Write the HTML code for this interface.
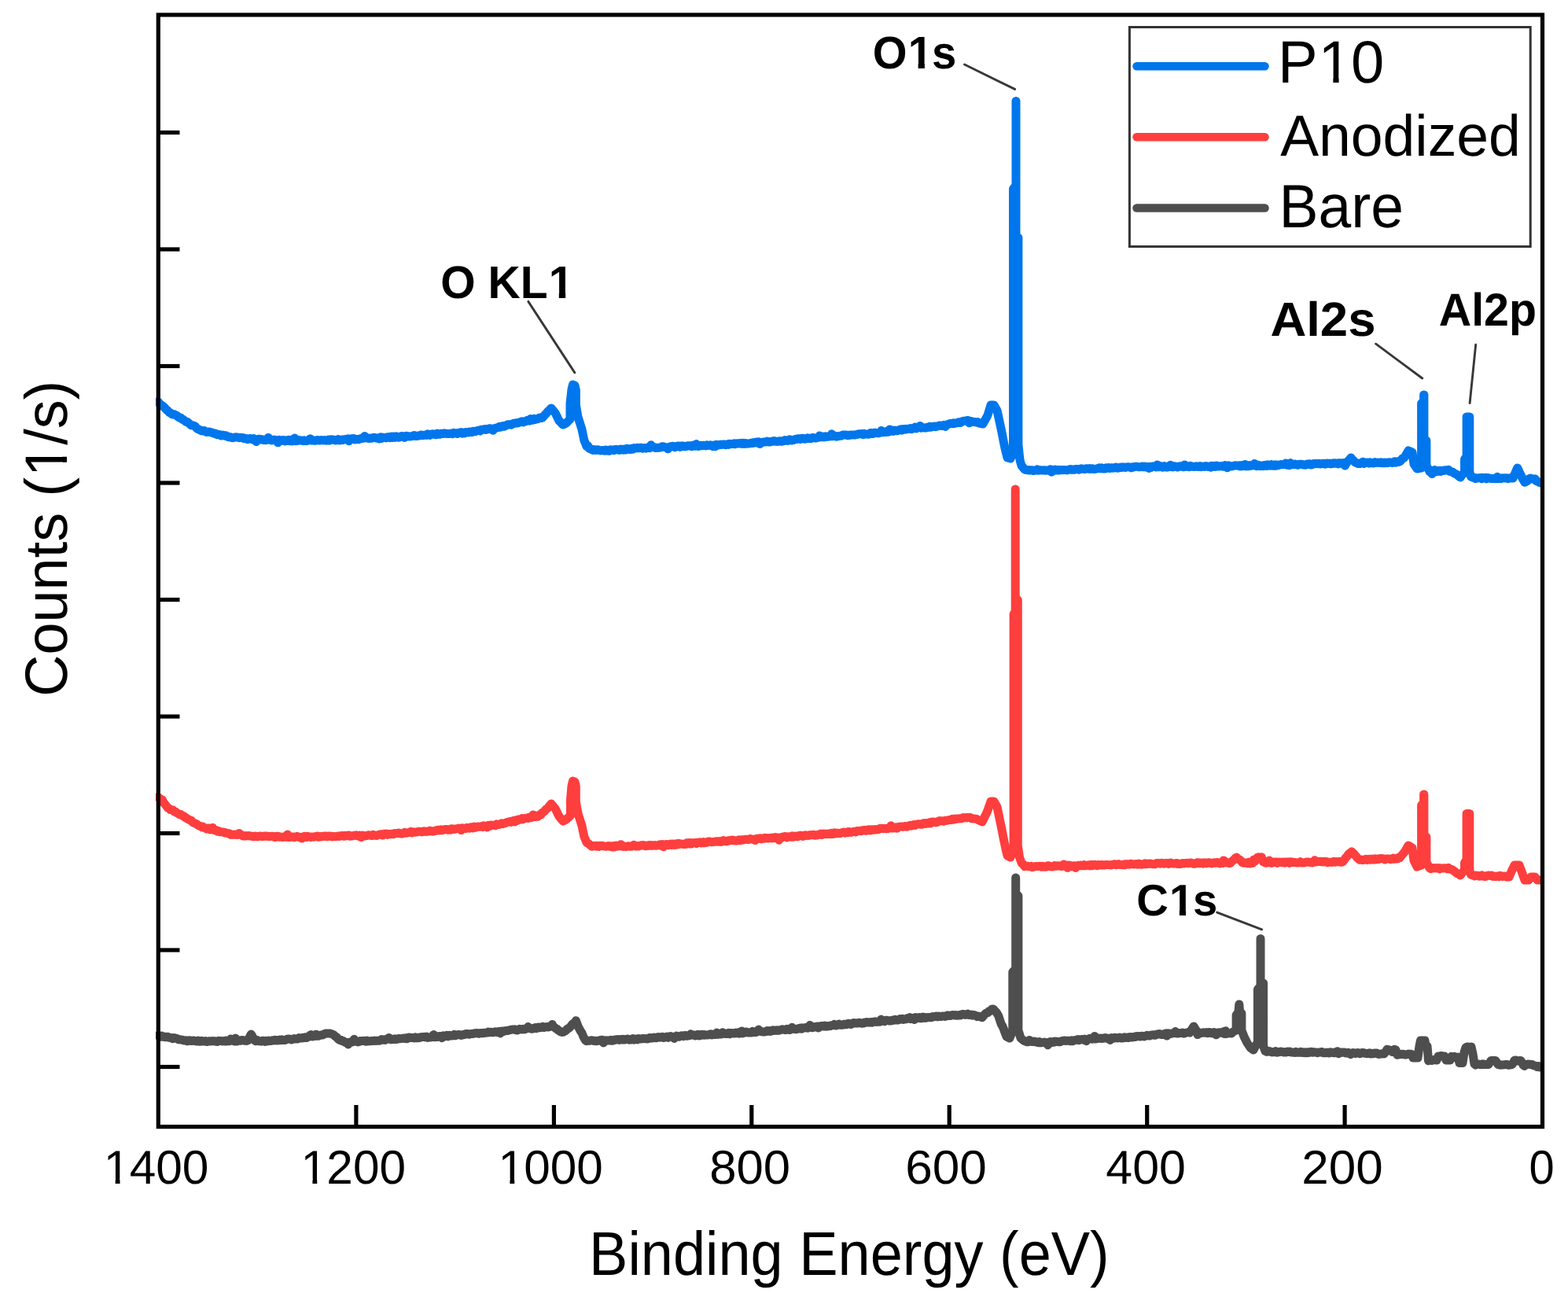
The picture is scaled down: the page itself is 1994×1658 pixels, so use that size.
<!DOCTYPE html>
<html><head><meta charset="utf-8"><title>XPS survey spectra</title>
<style>
html,body{margin:0;padding:0;background:#fff;}
body{width:1994px;height:1658px;overflow:hidden;}
svg{display:block;}
text{font-family:"Liberation Sans",Arial,sans-serif;fill:#000;text-rendering:geometricPrecision;}
</style></head><body>
<svg width="1994" height="1658" viewBox="0 0 1994 1658">
<rect x="0" y="0" width="1994" height="1658" fill="#fff"/>
<defs><clipPath id="pc"><rect x="198" y="0" width="1763.5" height="1658"/></clipPath></defs>
<g clip-path="url(#pc)">
<path d="M201.0 510.7L202.8 513.0L204.5 514.6L206.2 515.5L208.0 517.3L209.8 518.8L211.5 520.9L213.2 521.9L215.0 524.2L216.7 525.0L218.3 526.4L220.0 527.1L221.7 526.8L223.3 527.9L225.0 528.5L226.7 530.2L228.3 531.1L230.0 531.3L231.7 533.3L233.3 533.7L235.0 534.9L236.7 536.5L238.3 536.6L240.0 538.0L241.7 539.4L243.3 540.8L245.0 540.9L246.7 541.4L248.3 542.3L250.0 544.4L251.7 545.6L253.3 546.3L255.0 547.1L256.5 547.9L258.1 547.7L259.6 547.5L261.2 548.8L262.7 549.4L264.2 549.1L265.8 548.9L267.3 549.5L268.8 549.8L270.4 550.3L271.9 551.1L273.5 550.9L275.0 552.1L276.5 552.8L278.1 552.3L279.6 552.7L281.2 554.0L282.7 553.0L284.2 553.4L285.8 554.3L287.3 553.7L288.8 554.6L290.4 555.8L291.9 555.4L293.5 556.0L295.0 556.6L296.5 556.8L298.1 556.1L299.6 555.8L301.2 555.9L302.7 556.3L304.2 556.7L305.8 556.3L307.3 556.6L308.8 556.6L310.4 557.7L311.9 557.3L313.5 557.6L315.0 558.6L316.5 558.0L318.1 557.5L319.6 558.0L321.2 558.8L322.7 557.6L324.2 558.5L325.8 561.6L327.3 559.2L328.8 558.3L330.4 558.2L331.9 558.9L333.5 558.7L335.0 559.5L336.5 559.6L338.1 559.7L339.6 558.8L341.2 556.4L342.7 559.3L344.2 559.6L345.8 560.0L347.3 559.4L348.8 559.0L350.4 559.7L351.9 559.8L353.5 562.8L355.0 559.3L356.5 560.7L358.0 560.4L359.6 559.5L361.1 559.7L362.6 560.8L364.1 559.8L365.6 560.4L367.1 559.4L368.7 560.6L370.2 559.4L371.7 560.8L373.2 559.8L374.7 557.1L376.3 560.7L377.8 560.6L379.3 559.5L380.8 559.7L382.3 560.1L383.9 559.9L385.4 560.7L386.9 559.9L388.4 560.6L389.9 560.7L391.4 560.1L393.0 559.2L394.5 557.7L396.0 560.0L397.5 560.1L399.1 560.0L400.6 560.3L402.2 559.9L403.7 559.5L405.2 559.8L406.8 560.1L408.3 559.6L409.8 559.7L411.4 559.9L412.9 559.6L414.5 560.2L416.0 560.1L417.5 559.1L419.1 560.1L420.6 558.8L422.2 559.3L423.7 558.9L425.2 559.5L426.8 559.9L428.3 559.5L429.8 558.6L431.4 559.9L432.9 559.8L434.5 559.0L436.0 559.5L437.5 558.8L439.1 558.6L440.6 558.5L442.2 557.9L443.7 560.8L445.2 558.2L446.8 557.8L448.3 558.0L449.8 557.6L451.4 558.9L452.9 558.6L454.5 558.6L456.0 558.7L457.5 558.0L459.1 557.8L460.6 557.4L462.2 557.2L463.7 554.5L465.2 556.9L466.8 556.8L468.3 557.3L469.8 557.4L471.4 556.9L472.9 557.2L474.5 556.5L476.0 556.3L477.5 556.6L479.1 557.3L480.6 556.8L482.2 558.0L483.7 555.8L485.2 557.3L486.8 556.1L488.3 556.6L489.8 556.6L491.4 556.9L492.9 555.8L494.5 555.6L496.0 556.6L497.5 555.3L499.1 556.6L500.6 555.0L502.2 556.3L503.7 554.9L505.2 555.3L506.8 556.2L508.3 555.7L509.8 554.8L511.4 554.4L512.9 554.9L514.5 556.6L516.0 554.5L517.5 554.2L519.1 555.0L520.6 555.1L522.2 555.0L523.7 554.6L525.2 554.0L526.8 553.5L528.3 554.6L529.8 554.6L531.4 554.0L532.9 554.1L534.5 553.3L536.0 552.9L537.5 553.7L539.1 553.2L540.6 553.2L542.2 553.4L543.7 551.8L545.2 552.1L546.8 553.4L548.3 552.5L549.8 551.7L551.4 551.9L552.9 552.2L554.5 552.8L556.0 551.3L557.5 552.3L559.0 552.3L560.6 551.3L562.1 551.2L563.6 551.5L565.1 550.8L566.6 551.1L568.2 551.6L569.7 551.4L571.2 551.4L572.7 551.3L574.2 551.0L575.8 551.7L577.3 550.4L578.8 551.1L580.3 550.7L581.8 551.4L583.4 550.3L584.9 550.4L586.4 549.7L587.9 551.1L589.4 550.1L591.0 550.8L592.5 549.4L594.0 549.6L595.5 549.9L597.0 549.1L598.5 549.0L600.0 549.6L601.5 548.2L603.0 548.8L604.5 548.6L606.0 547.8L607.5 547.5L609.0 547.2L610.5 548.0L612.0 546.2L613.5 546.4L615.0 546.3L616.5 545.6L618.0 546.4L619.5 545.4L621.0 545.8L622.5 544.7L624.0 544.9L625.5 545.2L627.0 547.3L628.5 545.0L630.0 544.4L631.5 544.0L633.1 543.7L634.6 542.6L636.2 543.3L637.7 542.2L639.2 541.6L640.8 542.3L642.3 541.5L643.8 541.0L645.4 540.0L646.9 539.7L648.5 539.8L650.0 540.2L651.5 539.1L653.1 538.3L654.6 538.2L656.2 537.7L657.7 537.9L659.2 537.8L660.8 536.9L662.3 536.5L663.8 535.7L665.4 536.8L666.9 535.7L668.5 535.9L670.0 534.6L671.5 534.5L673.1 535.1L674.6 532.5L676.2 534.2L677.7 534.2L679.2 532.5L680.8 533.5L682.3 532.5L683.8 532.7L685.4 531.4L686.9 531.0L688.5 531.6L690.0 531.0L691.5 529.2L693.0 527.5L694.5 525.8L696.0 524.0L697.7 522.3L699.3 520.7L701.0 519.0L702.7 521.0L704.3 523.0L706.0 525.0L707.7 528.3L709.3 531.7L711.0 535.0L712.7 536.7L714.3 538.3L716.0 540.0L718.0 539.0L720.0 538.0L721.7 536.3L723.3 534.7L725.0 533.0L725.0 513.0L727.0 495.0L728.5 489.0L731.0 490.0L732.4 496.0L732.4 515.0L734.9 530.0L736.6 535.3L738.3 540.7L740.0 546.0L742.9 560.0L744.5 563.5L746.0 567.6L747.6 566.8L749.2 570.2L750.8 570.4L752.4 571.6L754.0 572.4L755.6 571.5L757.2 572.4L758.8 571.9L760.4 571.7L762.0 572.5L763.6 572.9L765.2 572.7L766.8 572.4L768.4 573.2L770.0 572.2L771.5 573.2L773.0 572.4L774.6 573.3L776.1 571.8L777.6 572.3L779.1 571.9L780.6 572.6L782.1 571.6L783.7 571.7L785.2 571.5L786.7 572.2L788.2 572.4L789.7 571.1L791.3 571.3L792.8 572.1L794.3 571.1L795.8 571.9L797.3 570.3L798.9 570.7L800.4 571.4L801.9 571.5L803.4 570.3L804.9 571.1L806.4 569.6L808.0 570.0L809.5 569.8L811.0 569.2L812.5 569.7L814.1 569.2L815.6 569.3L817.2 570.2L818.7 569.5L820.2 569.5L821.8 570.1L823.3 569.2L824.8 568.6L826.4 569.7L827.9 565.7L829.5 568.4L831.0 568.3L832.5 568.7L834.1 569.6L835.6 569.2L837.2 569.4L838.7 569.0L840.2 569.0L841.8 567.8L843.3 567.8L844.8 568.3L846.4 568.7L847.9 568.7L849.5 570.8L851.0 568.4L852.5 567.7L854.0 567.7L855.5 567.2L857.0 568.2L858.5 568.8L860.0 567.6L861.5 567.0L863.0 567.1L864.5 568.3L866.0 567.0L867.5 567.4L869.0 567.0L870.5 567.8L872.0 567.7L873.5 566.9L875.0 566.8L876.5 567.1L878.0 566.7L879.5 567.7L881.0 566.3L882.5 566.5L884.0 567.1L885.5 564.6L887.0 567.3L888.5 567.4L890.0 566.4L891.5 566.2L893.0 566.7L894.5 566.3L896.0 566.4L897.5 566.9L899.0 565.8L900.5 566.5L902.0 566.1L903.5 565.8L905.0 566.4L906.5 567.8L908.0 565.9L909.5 567.7L911.0 565.3L912.5 565.7L914.0 566.0L915.5 565.2L917.0 565.5L918.5 565.2L920.0 565.1L921.5 565.1L923.0 565.8L924.5 564.9L926.0 565.4L927.5 564.2L929.0 564.7L930.5 564.6L932.0 564.6L933.5 563.8L935.0 564.7L936.5 563.7L938.0 564.1L939.5 563.6L941.0 564.1L942.5 563.4L944.0 564.4L945.5 563.3L947.0 564.4L948.5 563.6L950.0 564.2L951.5 564.1L953.0 563.8L954.5 563.7L956.0 563.0L957.5 563.5L959.0 562.5L960.5 562.9L962.0 562.1L963.5 563.0L965.0 561.8L966.5 564.5L968.0 562.5L969.5 562.5L971.0 562.0L972.5 561.9L974.0 561.9L975.5 561.1L977.0 561.8L978.5 562.1L980.0 561.5L981.5 561.4L983.0 560.8L984.5 560.6L986.0 561.2L987.5 561.3L989.0 561.4L990.5 560.9L992.0 560.7L993.6 561.3L995.1 561.0L996.6 560.6L998.1 559.6L999.6 559.9L1001.1 560.5L1002.7 560.1L1004.2 558.8L1005.7 559.8L1007.2 559.9L1008.7 559.6L1010.3 558.9L1011.8 558.3L1013.3 558.6L1014.8 557.7L1016.3 557.8L1017.9 558.5L1019.4 557.5L1020.9 557.3L1022.4 558.0L1023.9 558.2L1025.4 557.6L1027.0 556.7L1028.5 557.4L1030.0 557.5L1031.5 557.7L1033.1 556.5L1034.6 556.6L1036.2 556.9L1037.7 556.9L1039.2 556.5L1040.8 556.3L1042.3 553.9L1043.8 555.6L1045.4 555.7L1046.9 555.0L1048.5 555.8L1050.0 554.8L1051.5 555.1L1053.1 555.3L1054.6 554.8L1056.2 554.8L1057.7 551.8L1059.2 554.7L1060.8 554.1L1062.3 554.2L1063.8 555.2L1065.4 554.9L1066.9 554.4L1068.5 554.3L1070.0 554.0L1071.5 553.1L1073.1 553.0L1074.6 553.1L1076.2 552.9L1077.7 553.7L1079.2 553.2L1080.8 553.4L1082.3 552.9L1083.8 553.0L1085.4 553.0L1086.9 553.1L1088.5 552.7L1090.0 552.4L1091.5 551.7L1093.1 551.7L1094.6 551.8L1096.2 551.4L1097.7 552.6L1099.2 551.4L1100.8 551.9L1102.3 551.9L1103.8 552.2L1105.4 552.0L1106.9 550.6L1108.5 550.6L1110.0 551.5L1111.5 550.3L1113.1 550.1L1114.6 550.6L1116.2 550.8L1117.7 550.8L1119.2 549.9L1120.8 547.5L1122.3 549.8L1123.8 549.0L1125.4 549.3L1126.9 549.5L1128.5 547.9L1130.0 549.2L1131.5 546.0L1133.1 548.3L1134.6 547.2L1136.2 548.3L1137.7 547.1L1139.2 547.4L1140.8 547.8L1142.3 547.3L1143.8 546.4L1145.4 545.8L1146.9 547.0L1148.5 545.5L1150.0 546.2L1151.5 545.3L1153.1 545.9L1154.6 545.3L1156.2 545.1L1157.7 544.5L1159.2 545.7L1160.8 545.1L1162.3 544.4L1163.8 543.1L1165.4 544.8L1166.9 543.9L1168.5 543.5L1170.0 541.5L1171.5 544.2L1173.1 543.4L1174.6 543.9L1176.2 544.1L1177.7 544.0L1179.2 543.2L1180.8 543.4L1182.3 542.3L1183.8 543.3L1185.4 542.4L1186.9 542.4L1188.5 541.9L1190.0 542.7L1191.5 542.1L1193.0 541.7L1194.6 540.9L1196.1 541.0L1197.6 541.5L1199.1 541.2L1200.6 540.3L1202.1 542.4L1203.7 540.3L1205.2 539.5L1206.7 539.1L1208.2 538.5L1209.7 538.4L1211.3 538.7L1212.8 537.7L1214.3 538.4L1215.8 537.9L1217.3 537.7L1218.9 536.8L1220.4 537.5L1221.9 537.3L1223.4 535.8L1224.9 535.5L1226.4 535.2L1228.0 535.2L1229.5 534.6L1231.0 534.6L1232.5 537.7L1234.0 535.5L1235.5 535.7L1237.0 536.2L1238.5 536.6L1240.0 536.4L1241.5 537.1L1243.0 536.6L1244.8 538.1L1246.5 538.3L1248.2 538.8L1250.0 539.0L1251.5 536.2L1253.0 533.5L1254.5 530.8L1256.0 528.0L1258.0 521.5L1260.0 515.0L1262.0 515.0L1264.0 515.0L1266.0 518.5L1268.0 522.0L1269.7 529.7L1271.3 537.3L1273.0 545.0L1274.7 553.3L1276.3 561.7L1278.0 570.0L1279.5 576.0L1281.0 582.0L1283.0 582.5L1285.0 583.0L1286.8 579.0L1288.5 575.0L1288.5 240.0L1290.2 238.0L1292.0 236.0L1292.0 128.5L1292.0 300.0L1294.9 302.0L1294.9 565.0L1297.0 585.0L1299.0 592.0L1301.0 594.5L1303.0 596.9L1304.8 597.5L1306.5 597.4L1308.2 598.1L1310.0 597.6L1311.5 597.9L1313.0 597.8L1314.5 598.6L1316.1 598.1L1317.6 597.7L1319.1 596.8L1320.6 598.2L1322.1 597.8L1323.6 597.8L1325.2 598.0L1326.7 597.9L1328.2 597.7L1329.7 598.3L1331.2 597.9L1332.7 598.0L1334.2 598.3L1335.8 596.8L1337.3 600.2L1338.8 597.6L1340.3 597.5L1341.8 597.0L1343.3 598.1L1344.8 598.1L1346.4 597.2L1347.9 597.9L1349.4 597.7L1350.9 597.4L1352.4 597.7L1353.9 597.4L1355.5 597.6L1357.0 597.9L1358.5 597.3L1360.0 597.0L1361.5 596.5L1363.0 597.2L1364.5 597.1L1366.0 597.3L1367.5 596.5L1369.1 596.4L1370.6 596.8L1372.1 597.2L1373.6 596.2L1375.1 595.8L1376.6 596.1L1378.1 596.4L1379.6 596.4L1381.1 595.7L1382.6 595.8L1384.2 596.2L1385.7 595.5L1387.2 596.4L1388.7 595.8L1390.2 596.0L1391.7 596.6L1393.2 596.4L1394.7 595.9L1396.2 595.6L1397.7 594.9L1399.2 595.8L1400.8 594.9L1402.3 595.9L1403.8 595.5L1405.3 596.0L1406.8 594.8L1408.3 595.3L1409.8 594.6L1411.3 595.4L1412.8 594.7L1414.3 594.8L1415.8 595.2L1417.4 594.6L1418.9 594.0L1420.4 595.1L1421.9 595.2L1423.4 594.6L1424.9 594.0L1426.4 594.4L1427.9 593.8L1429.4 594.1L1430.9 594.4L1432.5 593.9L1434.0 593.8L1435.5 593.8L1437.0 594.1L1438.5 594.8L1440.0 593.8L1441.5 594.0L1443.0 593.5L1444.5 593.3L1446.0 593.3L1447.5 593.7L1449.1 593.7L1450.6 593.7L1452.1 593.1L1453.6 593.8L1455.1 593.1L1456.6 593.9L1458.1 593.2L1459.6 594.1L1461.1 595.5L1462.6 593.2L1464.2 594.3L1465.7 593.0L1467.2 592.9L1468.7 593.1L1470.2 594.0L1471.7 591.0L1473.2 593.8L1474.7 592.9L1476.2 592.8L1477.7 594.0L1479.2 594.2L1480.8 592.7L1482.3 593.6L1483.8 594.2L1485.3 593.3L1486.8 593.6L1488.3 591.3L1489.8 593.6L1491.3 593.9L1492.8 592.7L1494.3 593.0L1495.8 593.2L1497.4 594.0L1498.9 593.7L1500.4 592.7L1501.9 592.9L1503.4 593.2L1504.9 593.8L1506.4 590.9L1507.9 593.4L1509.4 592.5L1510.9 593.5L1512.5 593.7L1514.0 592.4L1515.5 593.2L1517.0 593.3L1518.5 593.5L1520.0 593.2L1521.5 592.8L1523.0 593.4L1524.5 593.4L1526.0 592.6L1527.5 593.7L1529.1 593.4L1530.6 593.0L1532.1 593.4L1533.6 592.5L1535.1 593.4L1536.6 593.1L1538.1 593.4L1539.6 594.3L1541.1 592.2L1542.6 593.1L1544.2 592.4L1545.7 593.3L1547.2 592.1L1548.7 593.1L1550.2 593.1L1551.7 592.7L1553.2 592.6L1554.7 593.0L1556.2 593.3L1557.7 591.8L1559.2 592.8L1560.8 594.8L1562.3 591.8L1563.8 592.9L1565.3 592.6L1566.8 593.0L1568.3 592.4L1569.8 591.9L1571.3 591.8L1572.8 592.1L1574.3 592.2L1575.8 591.7L1577.4 593.1L1578.9 591.6L1580.4 592.7L1581.9 592.4L1583.4 590.4L1584.9 592.8L1586.4 592.3L1587.9 592.8L1589.4 591.5L1590.9 592.3L1592.5 591.5L1594.0 591.8L1595.5 589.5L1597.0 592.6L1598.5 592.7L1600.0 591.3L1601.5 591.8L1603.0 592.7L1604.6 592.0L1606.1 592.6L1607.6 591.6L1609.1 591.2L1610.6 592.5L1612.2 590.9L1613.7 591.4L1615.2 592.2L1616.7 590.8L1618.2 591.9L1619.8 592.3L1621.3 590.9L1622.8 592.1L1624.3 591.0L1625.8 591.7L1627.4 591.0L1628.9 590.6L1630.4 590.7L1631.9 590.6L1633.4 590.3L1635.0 589.0L1636.5 591.2L1638.0 591.4L1639.5 591.7L1641.0 588.6L1642.6 590.6L1644.1 590.8L1645.6 590.2L1647.1 590.1L1648.6 590.8L1650.2 591.3L1651.7 590.5L1653.2 590.2L1654.7 590.3L1656.2 590.5L1657.8 591.1L1659.3 591.2L1660.8 591.0L1662.3 589.9L1663.8 590.0L1665.4 589.8L1666.9 591.0L1668.4 590.9L1669.9 589.8L1671.4 589.4L1673.0 589.7L1674.5 589.3L1676.0 589.7L1677.5 589.2L1679.0 590.0L1680.5 589.8L1682.0 589.4L1683.5 589.2L1685.0 590.2L1686.5 589.2L1688.0 589.0L1689.5 589.6L1691.0 589.1L1692.5 589.9L1694.0 589.6L1695.5 588.8L1697.0 589.3L1698.5 588.7L1700.0 589.1L1701.5 589.9L1703.0 588.5L1704.5 589.2L1706.0 588.8L1707.5 589.7L1709.0 588.5L1710.5 592.1L1712.0 589.0L1713.5 587.2L1715.0 585.5L1716.5 583.8L1718.0 582.0L1719.5 583.8L1721.0 585.5L1722.5 587.2L1724.0 588.3L1725.5 588.6L1727.1 589.6L1728.6 589.5L1730.1 589.5L1731.7 588.2L1733.2 587.2L1734.7 589.5L1736.3 588.2L1737.8 588.3L1739.3 587.9L1740.9 589.0L1742.4 587.8L1743.9 588.7L1745.5 588.9L1747.0 589.1L1748.5 587.7L1750.1 588.4L1751.6 588.0L1753.1 588.2L1754.7 588.5L1756.2 587.7L1757.7 588.7L1759.3 588.8L1760.8 588.0L1762.3 588.7L1763.9 588.0L1765.4 588.5L1766.9 587.7L1768.5 587.9L1770.0 588.5L1771.7 588.3L1773.3 587.0L1775.0 588.2L1776.7 586.9L1778.3 587.4L1780.0 587.0L1781.8 585.1L1783.5 582.7L1785.2 582.5L1787.0 580.0L1789.0 576.5L1791.0 573.0L1792.7 573.7L1794.3 574.3L1796.0 575.0L1798.0 590.0L1800.0 593.0L1802.0 596.0L1803.9 595.7L1805.7 595.3L1807.6 595.0L1807.6 513.0L1809.1 511.5L1810.6 510.0L1810.6 502.0L1810.9 502.0L1810.9 558.0L1812.4 559.0L1813.9 560.0L1813.9 592.0L1816.0 595.5L1818.0 599.7L1819.6 599.5L1821.1 602.5L1822.7 599.2L1824.3 597.6L1825.9 599.0L1827.4 599.7L1829.0 598.7L1830.6 598.3L1832.2 599.5L1833.9 598.3L1835.5 598.6L1837.1 597.8L1838.8 597.9L1840.4 597.8L1842.0 597.3L1843.6 599.3L1845.2 599.7L1846.8 599.9L1848.4 601.1L1850.0 602.2L1851.8 602.9L1853.5 604.1L1855.2 605.6L1857.0 607.0L1858.8 604.7L1860.7 602.3L1862.5 600.0L1862.5 584.0L1865.1 580.0L1865.1 530.0L1866.9 530.0L1868.8 530.0L1868.8 600.0L1870.5 606.0L1872.0 606.7L1873.5 607.3L1875.0 607.2L1876.5 608.6L1878.1 608.1L1879.6 607.7L1881.1 607.7L1882.7 607.5L1884.2 608.6L1885.7 607.3L1887.2 607.9L1888.8 607.4L1890.3 608.7L1891.8 607.4L1893.4 607.8L1894.9 608.2L1896.4 608.5L1898.0 608.4L1899.5 608.4L1901.0 608.5L1902.6 608.7L1904.1 606.3L1905.6 608.7L1907.2 607.9L1908.7 608.6L1910.2 607.8L1911.8 607.9L1913.3 607.7L1914.8 608.1L1916.3 607.7L1917.9 608.6L1919.4 607.9L1920.9 607.7L1922.5 608.1L1924.0 608.0L1925.9 603.7L1927.8 599.3L1929.7 595.0L1931.5 598.7L1933.2 602.3L1935.0 606.0L1937.0 610.0L1939.0 613.3L1940.8 612.2L1942.5 611.5L1944.2 609.0L1946.0 608.0L1947.5 608.5L1949.0 609.0L1950.5 609.5L1952.0 608.8L1953.8 611.6L1955.5 612.1L1957.2 613.2L1959.0 614.0" fill="none" stroke="#0076ec" stroke-width="11.0" stroke-linejoin="round" stroke-linecap="round"/>
<path d="M201.0 1013.5L202.8 1014.9L204.5 1016.3L206.2 1016.6L208.0 1020.4L209.8 1022.6L211.5 1024.6L213.2 1027.0L215.0 1027.9L216.7 1029.6L218.3 1029.7L220.0 1030.0L221.7 1032.1L223.3 1032.2L225.0 1033.6L226.7 1034.5L228.3 1035.6L230.0 1035.5L231.7 1037.0L233.3 1037.5L235.0 1039.2L236.7 1039.8L238.3 1041.2L240.0 1041.9L241.7 1042.7L243.3 1043.2L245.0 1045.5L246.7 1046.3L248.3 1047.0L250.0 1047.6L251.7 1049.1L253.3 1050.1L255.0 1050.4L256.5 1051.8L258.1 1051.1L259.6 1052.2L261.2 1052.7L262.7 1053.9L264.2 1052.9L265.8 1052.9L267.3 1054.7L268.8 1053.8L270.4 1052.2L271.9 1055.4L273.5 1055.5L275.0 1055.6L276.5 1057.1L278.1 1056.5L279.6 1057.7L281.2 1057.7L282.7 1057.9L284.2 1057.9L285.8 1059.0L287.3 1058.8L288.8 1059.4L290.4 1059.4L291.9 1060.0L293.5 1061.4L295.0 1061.1L296.5 1061.2L298.1 1061.2L299.6 1060.9L301.2 1061.4L302.7 1061.3L304.2 1059.5L305.8 1061.5L307.3 1061.6L308.8 1062.9L310.4 1062.4L311.9 1063.2L313.5 1062.6L315.0 1062.8L316.5 1062.6L318.1 1063.1L319.6 1063.0L321.2 1063.5L322.7 1063.8L324.2 1063.0L325.8 1063.4L327.3 1063.9L328.8 1063.4L330.4 1063.0L331.9 1063.2L333.5 1063.6L335.0 1063.3L336.5 1063.0L338.1 1063.3L339.6 1063.0L341.2 1063.4L342.7 1063.4L344.2 1063.4L345.8 1063.2L347.3 1063.5L348.8 1064.5L350.4 1064.5L351.9 1063.3L353.5 1063.2L355.0 1064.3L356.5 1063.9L358.0 1064.3L359.6 1064.6L361.1 1064.2L362.6 1063.4L364.1 1064.4L365.6 1061.1L367.1 1064.4L368.7 1064.4L370.2 1064.2L371.7 1064.1L373.2 1064.0L374.7 1064.7L376.3 1064.1L377.8 1063.4L379.3 1064.2L380.8 1064.6L382.3 1064.3L383.9 1066.1L385.4 1064.7L386.9 1063.3L388.4 1063.8L389.9 1064.5L391.4 1063.3L393.0 1063.9L394.5 1064.3L396.0 1064.5L397.5 1063.9L399.1 1064.2L400.6 1063.9L402.2 1063.3L403.7 1063.1L405.2 1064.3L406.8 1063.8L408.3 1063.9L409.8 1063.3L411.4 1063.4L412.9 1063.1L414.5 1063.0L416.0 1063.8L417.5 1063.0L419.1 1063.3L420.6 1063.1L422.2 1064.0L423.7 1063.4L425.2 1063.8L426.8 1063.6L428.3 1063.5L429.8 1063.1L431.4 1063.6L432.9 1062.7L434.5 1062.6L436.0 1062.6L437.5 1063.3L439.1 1062.3L440.6 1062.8L442.2 1062.3L443.7 1062.0L445.2 1063.2L446.8 1063.1L448.3 1062.8L449.8 1062.6L451.4 1062.1L452.9 1061.8L454.5 1062.8L456.0 1063.2L457.5 1062.1L459.1 1064.6L460.6 1062.1L462.2 1062.6L463.7 1063.0L465.2 1062.7L466.8 1062.6L468.3 1061.7L469.8 1061.9L471.4 1062.2L472.9 1062.6L474.5 1061.3L476.0 1062.2L477.5 1062.2L479.1 1062.5L480.6 1061.7L482.2 1061.2L483.7 1060.8L485.2 1060.8L486.8 1061.9L488.3 1060.3L489.8 1060.5L491.4 1060.1L492.9 1061.3L494.5 1060.5L496.0 1060.8L497.5 1060.3L499.1 1060.2L500.6 1060.7L502.2 1059.5L503.7 1059.8L505.2 1059.6L506.8 1059.0L508.3 1059.5L509.8 1060.1L511.4 1060.1L512.9 1059.4L514.5 1058.4L516.0 1059.2L517.5 1059.0L519.1 1058.7L520.6 1058.3L522.2 1057.3L523.7 1058.8L525.2 1057.7L526.8 1058.3L528.3 1057.9L529.8 1057.9L531.4 1057.4L532.9 1057.3L534.5 1057.2L536.0 1057.7L537.5 1057.7L539.1 1056.8L540.6 1057.2L542.2 1057.4L543.7 1057.0L545.2 1057.1L546.8 1056.1L548.3 1056.6L549.8 1057.2L551.4 1057.1L552.9 1056.2L554.5 1056.2L556.0 1055.5L557.5 1055.2L559.0 1056.0L560.6 1054.9L562.1 1055.8L563.6 1055.3L565.1 1054.7L566.6 1054.5L568.2 1054.6L569.7 1055.3L571.2 1054.6L572.7 1055.2L574.2 1053.8L575.8 1054.0L577.3 1054.4L578.8 1054.2L580.3 1053.8L581.8 1053.7L583.4 1053.1L584.9 1053.3L586.4 1055.6L587.9 1052.7L589.4 1053.8L591.0 1053.3L592.5 1053.4L594.0 1052.4L595.5 1052.9L597.0 1053.2L598.5 1051.7L600.0 1051.8L601.5 1052.8L603.0 1051.3L604.5 1052.3L606.0 1051.5L607.5 1051.0L609.0 1051.2L610.5 1051.3L612.0 1050.7L613.5 1051.5L615.0 1049.9L616.5 1050.3L618.0 1050.5L619.5 1051.9L621.0 1049.2L622.5 1050.6L624.0 1049.1L625.5 1049.1L627.0 1049.3L628.5 1049.3L630.0 1049.7L631.5 1047.9L633.1 1048.7L634.6 1048.4L636.2 1047.8L637.7 1046.9L639.2 1047.5L640.8 1046.9L642.3 1046.7L643.8 1045.9L645.4 1045.3L646.9 1045.0L648.5 1044.6L650.0 1045.3L651.5 1043.9L653.1 1043.4L654.6 1045.0L656.2 1042.9L657.7 1043.5L659.2 1041.9L660.8 1041.7L662.3 1042.0L663.8 1040.7L665.4 1041.7L666.9 1040.4L668.5 1040.3L670.0 1040.3L671.6 1040.4L673.2 1039.1L674.8 1039.7L676.4 1039.2L678.0 1036.0L679.6 1037.7L681.2 1038.5L682.8 1037.1L684.4 1038.0L686.0 1036.3L687.7 1036.1L689.3 1033.4L691.0 1032.6L692.7 1031.2L694.3 1029.0L696.0 1028.0L697.7 1026.0L699.3 1024.0L701.0 1022.0L702.7 1024.0L704.3 1026.0L706.0 1028.0L707.7 1031.3L709.3 1034.7L711.0 1038.0L712.7 1040.0L714.3 1042.0L716.0 1044.0L718.0 1043.0L720.0 1042.0L721.8 1040.3L723.7 1038.7L725.5 1037.0L725.5 1017.0L727.0 999.0L728.5 993.0L731.0 994.0L732.3 1000.0L732.3 1019.0L734.9 1034.0L736.6 1039.3L738.3 1044.7L740.0 1050.0L742.9 1064.0L744.5 1067.5L746.0 1071.4L747.6 1072.1L749.2 1073.2L750.8 1074.6L752.4 1076.2L753.9 1076.0L755.5 1075.6L757.0 1075.2L758.6 1076.1L760.1 1075.3L761.7 1076.4L763.2 1075.3L764.8 1075.4L766.3 1075.3L767.8 1075.9L769.4 1076.1L770.9 1076.3L772.5 1075.7L774.0 1075.6L775.6 1076.4L777.1 1075.7L778.6 1076.8L780.2 1075.6L781.7 1076.7L783.3 1075.2L784.8 1076.2L786.4 1075.8L787.9 1075.6L789.5 1073.7L791.0 1076.1L792.5 1076.4L794.0 1076.1L795.5 1076.5L797.0 1076.4L798.5 1075.8L800.0 1076.0L801.5 1076.2L803.0 1076.3L804.5 1075.4L806.0 1074.4L807.5 1075.7L809.0 1076.0L810.5 1075.5L812.0 1076.0L813.5 1075.5L815.0 1074.8L816.5 1075.0L818.0 1074.6L819.5 1075.3L821.0 1075.8L822.5 1075.1L824.0 1075.5L825.5 1074.5L827.0 1075.3L828.5 1074.5L830.0 1075.3L831.5 1074.9L833.0 1074.5L834.5 1075.2L836.0 1075.1L837.5 1074.9L839.0 1073.9L840.5 1075.1L842.0 1073.5L843.5 1076.7L845.0 1074.6L846.5 1073.6L848.0 1073.4L849.5 1074.7L851.0 1074.6L852.5 1073.2L854.0 1074.3L855.5 1073.0L857.0 1073.2L858.5 1074.5L860.0 1072.8L861.5 1074.1L863.0 1072.4L864.5 1073.2L866.0 1073.1L867.5 1072.9L869.0 1073.5L870.5 1073.5L872.0 1073.4L873.5 1071.8L875.0 1071.6L876.5 1073.0L878.0 1071.5L879.5 1072.8L881.0 1071.7L882.5 1071.8L884.0 1071.5L885.5 1072.5L887.0 1071.2L888.5 1071.6L890.0 1070.8L891.5 1071.9L893.0 1071.8L894.5 1070.7L896.0 1071.8L897.5 1071.3L899.0 1071.3L900.5 1070.0L902.0 1069.9L903.5 1070.3L905.0 1070.7L906.5 1070.6L908.0 1070.3L909.5 1070.3L911.0 1069.7L912.5 1069.7L914.0 1070.3L915.5 1069.5L917.0 1070.4L918.5 1069.8L920.0 1068.7L921.5 1069.6L923.0 1069.7L924.5 1069.7L926.0 1068.8L927.5 1069.1L929.0 1068.2L930.5 1068.5L932.0 1068.1L933.5 1068.8L935.0 1068.7L936.5 1069.1L938.0 1068.5L939.5 1067.9L941.0 1068.7L942.5 1067.8L944.0 1067.7L945.5 1068.0L947.0 1067.4L948.5 1067.2L950.0 1067.4L951.5 1067.6L953.0 1066.8L954.5 1066.4L956.0 1067.1L957.5 1067.2L959.0 1067.4L960.5 1068.5L962.0 1066.2L963.5 1066.3L965.0 1066.1L966.5 1065.8L968.0 1066.9L969.5 1066.1L971.0 1066.3L972.5 1065.3L974.0 1065.7L975.5 1065.5L977.0 1066.0L978.5 1065.4L980.0 1065.7L981.5 1065.0L983.0 1065.7L984.5 1065.6L986.0 1064.5L987.5 1064.9L989.0 1065.0L990.5 1068.2L992.0 1065.1L993.6 1065.5L995.1 1063.9L996.6 1063.9L998.1 1063.5L999.6 1063.7L1001.1 1064.8L1002.7 1063.7L1004.2 1063.8L1005.7 1064.3L1007.2 1062.9L1008.7 1064.1L1010.3 1063.4L1011.8 1062.9L1013.3 1063.8L1014.8 1063.5L1016.3 1062.4L1017.9 1062.2L1019.4 1062.5L1020.9 1063.4L1022.4 1062.6L1023.9 1061.8L1025.4 1062.6L1027.0 1062.1L1028.5 1062.4L1030.0 1061.6L1031.5 1061.8L1033.1 1061.5L1034.6 1061.2L1036.2 1062.2L1037.7 1061.8L1039.2 1062.0L1040.8 1061.1L1042.3 1061.3L1043.8 1060.2L1045.4 1061.6L1046.9 1060.0L1048.5 1060.5L1050.0 1060.0L1051.5 1060.6L1053.1 1060.6L1054.6 1059.7L1056.2 1060.6L1057.7 1059.3L1059.2 1060.3L1060.8 1058.9L1062.3 1060.0L1063.8 1059.0L1065.4 1059.7L1066.9 1059.3L1068.5 1059.6L1070.0 1059.0L1071.5 1058.4L1073.1 1058.0L1074.6 1059.1L1076.2 1058.3L1077.7 1058.8L1079.2 1057.5L1080.8 1057.8L1082.3 1058.4L1083.8 1057.9L1085.4 1057.2L1086.9 1057.4L1088.5 1057.9L1090.0 1056.6L1091.5 1056.6L1093.1 1056.4L1094.6 1056.8L1096.2 1055.8L1097.7 1056.0L1099.2 1055.3L1100.8 1056.2L1102.3 1056.0L1103.8 1054.9L1105.4 1054.7L1106.9 1055.9L1108.5 1054.7L1110.0 1054.7L1111.5 1055.3L1113.1 1054.6L1114.6 1055.0L1116.2 1054.5L1117.7 1054.4L1119.2 1053.3L1120.8 1053.4L1122.3 1053.2L1123.8 1053.6L1125.4 1053.2L1126.9 1053.8L1128.5 1053.5L1130.0 1053.4L1131.5 1052.3L1133.1 1049.8L1134.6 1052.9L1136.2 1052.9L1137.7 1052.6L1139.2 1051.9L1140.8 1053.2L1142.3 1051.4L1143.8 1051.2L1145.4 1051.1L1146.9 1051.0L1148.5 1051.3L1150.0 1050.6L1151.5 1050.4L1153.0 1051.3L1154.6 1050.7L1156.1 1049.7L1157.6 1049.3L1159.1 1050.1L1160.6 1049.0L1162.1 1048.6L1163.7 1049.5L1165.2 1048.7L1166.7 1047.9L1168.2 1047.7L1169.7 1047.7L1171.3 1048.3L1172.8 1048.2L1174.3 1046.8L1175.8 1046.6L1177.3 1047.4L1178.9 1046.5L1180.4 1047.0L1181.9 1045.8L1183.4 1046.8L1184.9 1045.1L1186.4 1045.1L1188.0 1044.9L1189.5 1045.7L1191.0 1045.7L1192.5 1045.1L1194.1 1043.7L1195.6 1043.6L1197.2 1043.8L1198.7 1044.0L1200.2 1044.2L1201.8 1043.2L1203.3 1043.4L1204.8 1043.1L1206.4 1042.7L1207.9 1042.5L1209.5 1042.5L1211.0 1041.3L1212.5 1042.2L1214.1 1041.0L1215.6 1041.5L1217.2 1041.1L1218.7 1041.0L1220.2 1040.8L1221.8 1040.8L1223.3 1040.6L1224.8 1039.5L1226.4 1039.8L1227.9 1039.6L1229.5 1039.9L1231.0 1039.3L1232.5 1039.6L1234.0 1039.5L1235.5 1040.8L1237.0 1040.8L1238.5 1041.1L1240.0 1041.1L1241.5 1041.3L1243.0 1042.0L1244.5 1042.8L1246.0 1043.5L1247.5 1044.2L1249.0 1045.0L1250.5 1042.0L1252.0 1039.0L1253.5 1036.0L1255.0 1033.0L1256.7 1028.3L1258.3 1023.7L1260.0 1019.0L1262.0 1019.0L1264.0 1019.0L1266.0 1022.5L1268.0 1026.0L1269.7 1034.0L1271.3 1042.0L1273.0 1050.0L1274.7 1058.3L1276.3 1066.7L1278.0 1075.0L1279.5 1081.5L1281.0 1088.0L1283.0 1089.0L1285.0 1090.0L1287.0 1085.0L1289.1 1080.0L1289.1 781.0L1291.2 777.0L1291.2 622.0L1291.2 760.0L1292.8 761.5L1294.3 763.0L1294.3 1075.0L1296.5 1090.0L1299.0 1097.0L1301.0 1099.0L1303.0 1101.7L1304.6 1101.2L1306.2 1101.1L1307.8 1101.7L1309.4 1101.6L1311.0 1101.3L1312.5 1102.7L1314.0 1102.5L1315.5 1101.9L1317.0 1101.4L1318.5 1101.6L1320.0 1101.6L1321.5 1101.2L1323.0 1101.5L1324.5 1102.3L1326.0 1101.3L1327.5 1102.2L1329.0 1101.7L1330.5 1102.2L1332.0 1100.7L1333.5 1100.8L1335.0 1101.5L1336.5 1101.7L1338.0 1102.1L1339.5 1101.7L1341.0 1100.6L1342.5 1100.8L1344.0 1101.2L1345.5 1100.7L1347.0 1100.8L1348.5 1101.3L1350.0 1101.5L1351.5 1101.2L1353.0 1098.9L1354.5 1100.8L1356.0 1101.5L1357.5 1103.4L1359.0 1100.0L1360.5 1100.4L1362.0 1101.4L1363.5 1101.5L1365.0 1100.8L1366.5 1100.8L1368.0 1103.4L1369.5 1101.0L1371.0 1100.3L1372.5 1100.8L1374.0 1100.0L1375.5 1100.5L1377.0 1100.8L1378.5 1099.7L1380.0 1100.8L1381.5 1100.6L1383.0 1099.9L1384.5 1099.8L1386.0 1100.8L1387.5 1099.5L1389.0 1100.7L1390.5 1099.7L1392.0 1099.3L1393.5 1099.7L1395.1 1100.6L1396.6 1099.4L1398.1 1099.7L1399.6 1100.0L1401.1 1099.4L1402.7 1100.1L1404.2 1099.8L1405.7 1100.0L1407.2 1099.4L1408.7 1099.6L1410.2 1099.7L1411.8 1099.9L1413.3 1100.0L1414.8 1099.2L1416.3 1099.0L1417.8 1098.7L1419.3 1099.7L1420.8 1099.2L1422.4 1098.6L1423.9 1099.5L1425.4 1099.4L1426.9 1099.6L1428.4 1099.8L1430.0 1098.8L1431.5 1099.6L1433.0 1098.5L1434.5 1099.1L1436.0 1099.2L1437.5 1098.3L1439.0 1098.2L1440.6 1098.9L1442.1 1099.1L1443.6 1098.6L1445.1 1098.4L1446.6 1099.2L1448.2 1098.1L1449.7 1099.1L1451.2 1099.3L1452.7 1099.0L1454.2 1098.8L1455.7 1097.9L1457.2 1098.8L1458.8 1098.1L1460.3 1098.6L1461.8 1098.0L1463.3 1097.9L1464.8 1098.6L1466.3 1098.8L1467.9 1098.6L1469.4 1098.8L1470.9 1097.4L1472.4 1097.6L1473.9 1097.4L1475.5 1098.2L1477.0 1097.3L1478.5 1097.4L1480.0 1098.2L1481.5 1097.7L1483.0 1097.5L1484.6 1097.5L1486.1 1098.4L1487.6 1097.2L1489.1 1097.1L1490.6 1097.8L1492.1 1098.1L1493.7 1098.0L1495.2 1097.8L1496.7 1097.4L1498.2 1098.6L1499.7 1098.5L1501.2 1098.5L1502.8 1097.7L1504.3 1097.6L1505.8 1098.0L1507.3 1097.4L1508.8 1097.5L1510.4 1097.2L1511.9 1097.7L1513.4 1097.1L1514.9 1097.1L1516.4 1097.7L1517.9 1098.3L1519.5 1098.3L1521.0 1097.9L1522.5 1096.8L1524.0 1096.7L1525.5 1097.8L1527.1 1097.1L1528.6 1096.9L1530.1 1098.2L1531.6 1096.7L1533.1 1097.1L1534.6 1097.8L1536.2 1096.7L1537.7 1096.8L1539.2 1097.3L1540.7 1097.9L1542.2 1097.2L1543.8 1096.7L1545.3 1097.3L1546.8 1096.7L1548.3 1096.4L1549.8 1097.5L1551.3 1097.9L1552.9 1097.5L1554.4 1097.6L1555.9 1093.9L1557.4 1094.9L1558.9 1096.3L1560.4 1097.1L1562.0 1096.8L1563.5 1097.6L1565.0 1097.2L1566.5 1095.2L1568.0 1094.0L1569.6 1092.9L1571.1 1090.9L1572.6 1090.1L1574.4 1092.1L1576.3 1092.8L1578.2 1094.5L1580.0 1096.8L1581.6 1097.3L1583.2 1097.2L1584.9 1097.0L1586.5 1097.7L1588.1 1096.3L1589.8 1097.8L1591.4 1096.8L1593.0 1097.5L1594.5 1092.9L1596.1 1094.9L1597.6 1091.8L1599.2 1090.2L1600.7 1089.7L1602.5 1091.7L1604.3 1089.8L1606.2 1095.6L1608.0 1096.4L1609.5 1097.2L1611.0 1097.0L1612.6 1096.7L1614.1 1094.0L1615.6 1097.1L1617.1 1097.4L1618.6 1096.1L1620.2 1096.5L1621.7 1096.0L1623.2 1096.0L1624.7 1097.3L1626.2 1096.1L1627.8 1096.3L1629.3 1096.1L1630.8 1096.8L1632.3 1096.0L1633.9 1097.2L1635.4 1096.0L1636.9 1096.3L1638.4 1096.0L1639.9 1097.3L1641.5 1095.8L1643.0 1095.9L1644.5 1096.7L1646.0 1096.4L1647.5 1096.6L1649.1 1097.1L1650.6 1096.9L1652.1 1096.9L1653.6 1095.6L1655.1 1096.9L1656.7 1096.9L1658.2 1097.0L1659.7 1096.6L1661.2 1096.0L1662.8 1096.0L1664.3 1096.1L1665.8 1096.5L1667.3 1096.6L1668.8 1097.0L1670.4 1095.8L1671.9 1093.7L1673.4 1095.9L1674.9 1095.3L1676.4 1095.6L1678.0 1095.4L1679.5 1095.3L1681.0 1095.9L1682.5 1095.3L1684.0 1095.9L1685.5 1095.3L1687.0 1095.6L1688.5 1096.7L1690.0 1096.4L1691.5 1096.2L1693.0 1096.4L1694.5 1096.3L1696.0 1095.4L1697.5 1096.2L1699.0 1095.5L1700.5 1095.7L1702.0 1095.7L1703.5 1095.3L1705.0 1096.2L1706.5 1096.2L1708.0 1095.4L1709.8 1092.8L1711.5 1090.3L1713.2 1088.6L1715.0 1086.0L1717.0 1084.5L1719.0 1083.0L1721.0 1085.0L1723.0 1087.0L1724.7 1089.0L1726.3 1091.0L1728.0 1092.3L1729.5 1093.3L1731.0 1092.9L1732.5 1093.6L1734.0 1093.5L1735.5 1092.7L1737.0 1092.3L1738.5 1093.4L1740.0 1092.7L1741.5 1092.2L1743.0 1093.1L1744.5 1092.1L1746.0 1092.3L1747.5 1093.1L1749.0 1091.8L1750.5 1092.7L1752.0 1092.0L1753.5 1092.4L1755.0 1091.6L1756.5 1091.7L1758.0 1091.6L1759.5 1091.9L1761.0 1092.9L1762.5 1092.2L1764.0 1091.9L1765.5 1091.9L1767.0 1092.3L1768.5 1092.7L1770.0 1092.4L1771.7 1091.1L1773.3 1092.3L1775.0 1092.1L1776.7 1092.0L1778.3 1090.4L1780.0 1090.8L1781.8 1088.4L1783.5 1086.5L1785.2 1084.3L1787.0 1082.0L1789.0 1078.5L1791.0 1075.0L1792.7 1076.0L1794.3 1077.0L1796.0 1078.0L1798.0 1094.0L1800.0 1098.0L1802.0 1102.0L1803.9 1101.3L1805.7 1100.7L1807.6 1100.0L1807.6 1024.0L1809.1 1022.5L1810.6 1021.0L1810.6 1010.0L1810.9 1010.0L1810.9 1062.0L1812.4 1063.0L1813.9 1064.0L1813.9 1096.0L1816.0 1100.0L1818.0 1103.8L1819.6 1104.7L1821.1 1103.9L1822.7 1103.5L1824.3 1103.9L1825.9 1103.7L1827.4 1104.0L1829.0 1103.5L1830.6 1104.8L1832.2 1103.8L1833.9 1103.9L1835.5 1104.0L1837.1 1103.7L1838.8 1104.0L1840.4 1104.7L1842.0 1103.4L1843.6 1105.0L1845.2 1105.2L1846.8 1105.7L1848.4 1107.2L1850.0 1108.0L1851.8 1109.7L1853.5 1110.7L1855.2 1111.0L1857.0 1113.0L1858.8 1110.7L1860.7 1108.3L1862.5 1106.0L1862.5 1097.0L1865.1 1093.0L1865.1 1034.4L1866.9 1034.4L1868.8 1034.4L1868.8 1106.0L1870.5 1112.0L1872.0 1112.5L1873.5 1113.0L1875.0 1113.9L1876.6 1112.9L1878.1 1113.4L1879.7 1113.3L1881.2 1114.2L1882.8 1113.9L1884.4 1112.9L1885.9 1114.0L1887.5 1114.3L1889.1 1114.5L1890.6 1113.4L1892.2 1113.3L1893.7 1113.0L1895.3 1113.6L1896.9 1113.1L1898.4 1114.4L1900.0 1114.2L1901.6 1114.6L1903.1 1113.9L1904.7 1114.4L1906.2 1114.7L1907.8 1113.3L1909.4 1114.0L1911.0 1114.4L1912.6 1114.0L1914.2 1114.0L1915.8 1114.9L1917.4 1114.9L1919.0 1115.0L1921.0 1110.5L1923.0 1106.0L1924.5 1103.0L1926.0 1100.0L1927.5 1100.0L1929.0 1100.0L1930.5 1100.0L1932.0 1100.0L1933.5 1104.0L1935.0 1108.0L1937.0 1113.5L1939.0 1119.0L1940.7 1119.0L1942.3 1119.0L1944.0 1119.0L1945.5 1117.0L1947.0 1115.0L1948.7 1115.0L1950.3 1115.0L1952.0 1115.0L1953.5 1117.0L1955.0 1119.0L1956.6 1119.0L1958.2 1119.0L1959.8 1119.0" fill="none" stroke="#ff3e3e" stroke-width="11.0" stroke-linejoin="round" stroke-linecap="round"/>
<path d="M201.0 1316.6L202.6 1316.9L204.1 1318.1L205.7 1317.1L207.2 1318.3L208.8 1318.0L210.3 1318.8L211.9 1318.2L213.4 1318.3L215.0 1319.4L216.5 1319.6L218.1 1319.5L219.6 1320.7L221.2 1319.5L222.7 1320.0L224.2 1320.2L225.8 1320.8L227.3 1321.8L228.8 1321.7L230.4 1322.1L231.9 1322.2L233.5 1322.8L235.0 1323.1L236.5 1322.8L238.1 1323.8L239.6 1323.0L241.2 1322.8L242.7 1323.5L244.2 1323.5L245.8 1323.0L247.3 1323.2L248.8 1323.8L250.4 1324.0L251.9 1323.1L253.5 1324.2L255.0 1324.3L256.5 1323.4L258.1 1324.0L259.6 1323.9L261.2 1323.6L262.7 1324.5L264.2 1324.3L265.8 1323.8L267.3 1324.0L268.8 1323.8L270.4 1323.6L271.9 1323.7L273.5 1323.7L275.0 1324.3L276.5 1324.4L278.1 1323.3L279.6 1323.6L281.2 1323.4L282.7 1324.0L284.2 1323.6L285.8 1324.0L287.3 1323.0L288.8 1323.9L290.4 1322.9L291.9 1323.7L293.5 1320.9L295.0 1322.8L296.5 1322.9L298.1 1324.1L299.6 1320.1L301.2 1324.1L302.7 1323.0L304.2 1323.0L305.8 1323.2L307.3 1322.5L308.8 1322.6L310.4 1323.3L311.9 1322.7L313.5 1323.4L315.0 1323.0L317.2 1319.0L319.4 1315.0L320.9 1317.7L322.5 1320.3L324.0 1323.0L325.6 1323.8L327.3 1322.6L328.9 1323.7L330.5 1323.9L332.1 1324.2L333.8 1323.2L335.4 1323.5L336.9 1324.4L338.5 1323.3L340.0 1323.9L341.6 1323.0L343.1 1323.6L344.7 1323.5L346.2 1322.8L347.7 1323.1L349.3 1322.2L350.8 1322.4L352.4 1323.0L353.9 1322.8L355.4 1322.0L357.0 1322.6L358.5 1321.7L360.1 1322.6L361.6 1322.4L363.2 1322.4L364.7 1321.5L366.2 1321.0L367.8 1320.9L369.3 1321.5L370.9 1322.0L372.4 1321.2L374.0 1320.5L375.5 1321.0L377.0 1321.1L378.6 1321.0L380.1 1319.6L381.7 1320.1L383.2 1320.1L384.8 1319.3L386.3 1319.7L387.9 1318.9L389.4 1319.6L391.0 1318.9L392.5 1318.4L394.1 1316.3L395.6 1315.5L397.2 1318.0L398.8 1317.6L400.4 1317.6L402.0 1315.2L403.6 1317.2L405.2 1317.2L406.8 1316.3L408.4 1316.0L410.0 1316.0L412.0 1315.0L414.0 1314.0L415.5 1314.0L417.0 1314.0L418.5 1314.0L420.0 1314.0L421.7 1314.7L423.3 1315.3L425.0 1316.3L426.8 1318.1L428.5 1319.1L430.2 1321.2L432.0 1322.4L433.5 1322.2L435.1 1323.7L436.6 1323.6L438.2 1324.9L439.7 1325.7L441.2 1325.5L442.7 1328.0L444.2 1325.1L445.8 1324.9L447.3 1325.0L448.8 1324.8L450.3 1321.3L451.8 1323.5L453.3 1324.4L454.8 1324.9L456.3 1324.6L457.9 1323.6L459.4 1323.7L460.9 1323.6L462.4 1323.3L463.9 1323.5L465.4 1324.2L466.9 1323.1L468.4 1323.9L469.9 1323.7L471.5 1323.8L473.0 1323.4L474.5 1323.6L476.0 1323.1L477.5 1323.4L479.1 1323.3L480.6 1323.3L482.2 1323.2L483.7 1322.7L485.2 1321.6L486.8 1322.3L488.3 1321.8L489.8 1322.4L491.4 1321.4L492.9 1321.3L494.5 1319.5L496.0 1320.8L497.5 1321.8L499.1 1321.2L500.6 1321.6L502.2 1320.7L503.7 1321.6L505.2 1321.4L506.8 1320.4L508.3 1320.7L509.8 1320.6L511.4 1320.4L512.9 1320.1L514.5 1320.4L516.0 1319.8L517.5 1320.7L519.1 1319.2L520.6 1319.0L522.2 1319.6L523.7 1319.5L525.2 1319.6L526.8 1319.9L528.3 1318.9L529.8 1319.8L531.4 1319.8L532.9 1319.0L534.5 1319.4L536.0 1318.5L537.5 1318.6L539.1 1318.3L540.6 1318.8L542.2 1318.1L543.7 1319.4L545.2 1319.0L546.8 1319.1L548.3 1318.8L549.8 1318.1L551.4 1315.5L552.9 1318.8L554.5 1317.5L556.0 1318.5L557.5 1318.0L559.0 1317.4L560.6 1317.7L562.1 1319.7L563.6 1316.9L565.1 1317.3L566.6 1317.7L568.2 1316.5L569.7 1317.7L571.2 1316.2L572.7 1316.8L574.2 1317.1L575.8 1316.5L577.3 1315.5L578.8 1316.8L580.3 1316.2L581.8 1315.7L583.4 1315.4L584.9 1315.6L586.4 1316.4L587.9 1316.1L589.4 1315.3L591.0 1315.5L592.5 1314.5L594.0 1314.4L595.5 1314.7L597.0 1315.2L598.5 1314.6L600.0 1314.5L601.5 1314.4L603.0 1313.8L604.5 1313.9L606.0 1313.4L607.5 1313.6L609.0 1314.3L610.5 1313.6L612.0 1313.6L613.5 1313.8L615.0 1313.3L616.5 1313.4L618.0 1313.2L619.5 1313.1L621.0 1312.0L622.5 1312.8L624.0 1312.3L625.5 1312.5L627.0 1312.7L628.5 1312.2L630.0 1311.7L631.5 1312.5L633.1 1311.9L634.6 1311.4L636.2 1313.9L637.7 1311.2L639.2 1310.9L640.8 1311.4L642.3 1310.6L643.8 1310.4L645.4 1310.5L646.9 1310.0L648.5 1309.6L650.0 1309.2L651.5 1309.1L653.1 1309.1L654.6 1308.8L656.2 1309.8L657.7 1309.9L659.2 1309.2L660.8 1308.3L662.3 1308.7L663.8 1309.0L665.4 1308.3L666.9 1308.9L668.5 1308.3L670.0 1307.3L671.5 1305.6L673.1 1307.2L674.6 1307.7L676.2 1308.2L677.7 1308.1L679.2 1307.0L680.8 1306.6L682.3 1307.6L683.8 1306.2L685.4 1306.0L686.9 1306.8L688.5 1306.3L690.0 1305.4L691.5 1306.5L693.1 1305.8L694.6 1305.9L696.1 1305.4L697.7 1306.0L699.2 1305.4L700.8 1304.6L702.3 1302.5L703.9 1305.7L705.4 1306.3L707.0 1307.9L708.6 1308.5L710.1 1310.2L711.7 1311.0L713.3 1312.0L714.8 1312.4L716.4 1312.2L718.0 1311.3L719.6 1310.3L721.2 1308.5L722.8 1307.5L724.4 1306.6L726.0 1304.6L727.6 1302.5L729.2 1301.1L730.8 1300.1L732.4 1297.7L733.9 1301.6L735.4 1305.6L736.9 1308.4L738.5 1311.4L740.0 1313.4L741.5 1317.4L743.0 1320.2L744.5 1322.8L746.0 1323.7L747.6 1322.9L749.1 1323.5L750.6 1322.9L752.1 1322.8L753.7 1323.0L755.2 1323.4L756.7 1323.3L758.3 1323.8L759.8 1323.4L761.3 1323.2L762.9 1322.6L764.4 1322.3L765.9 1322.3L767.4 1326.0L769.0 1323.6L770.5 1322.7L772.0 1323.1L773.6 1323.1L775.1 1323.0L776.7 1322.3L778.2 1323.3L779.8 1323.1L781.3 1322.1L782.9 1321.8L784.4 1322.0L786.0 1321.5L787.5 1322.4L789.1 1321.6L790.6 1322.0L792.1 1321.2L793.7 1322.1L795.2 1321.8L796.8 1321.3L798.3 1321.0L799.9 1322.2L801.4 1322.1L803.0 1322.1L804.5 1320.7L806.1 1322.0L807.6 1320.9L809.2 1320.9L810.7 1321.8L812.2 1320.6L813.7 1320.9L815.2 1321.1L816.7 1320.5L818.2 1320.4L819.7 1320.8L821.2 1320.6L822.7 1320.9L824.2 1320.8L825.7 1319.5L827.2 1319.4L828.7 1320.1L830.2 1319.8L831.7 1319.1L833.2 1319.5L834.7 1319.8L836.2 1318.7L837.7 1318.6L839.2 1319.2L840.8 1318.6L842.3 1318.2L843.8 1319.4L845.3 1318.7L846.8 1318.9L848.3 1318.0L849.8 1319.2L851.3 1317.9L852.8 1317.6L854.3 1318.5L855.8 1318.3L857.3 1320.4L858.8 1318.2L860.3 1317.1L861.8 1317.9L863.3 1318.3L864.8 1317.6L866.3 1316.8L867.8 1317.3L869.3 1317.7L870.8 1316.4L872.3 1316.4L873.8 1317.3L875.3 1316.8L876.8 1316.8L878.3 1314.8L879.8 1316.0L881.3 1315.7L882.8 1316.2L884.3 1316.9L885.8 1316.1L887.4 1315.4L888.9 1316.9L890.4 1316.8L891.9 1315.2L893.4 1315.4L894.9 1316.2L896.4 1315.5L897.9 1316.1L899.4 1316.0L900.9 1315.8L902.4 1315.3L903.9 1314.7L905.4 1316.0L906.9 1315.2L908.4 1315.5L909.9 1315.6L911.4 1313.0L912.9 1315.3L914.4 1314.8L916.0 1315.0L917.5 1314.9L919.0 1312.8L920.5 1313.9L922.0 1314.5L923.5 1314.2L925.0 1314.6L926.5 1313.5L928.0 1314.7L929.5 1313.4L931.0 1313.5L932.5 1314.1L934.1 1314.1L935.6 1313.0L937.1 1313.7L938.6 1312.8L940.2 1314.0L941.7 1312.6L943.2 1311.0L944.7 1313.8L946.3 1313.3L947.8 1312.2L949.3 1312.0L950.8 1313.0L952.4 1312.8L953.9 1312.8L955.4 1313.1L956.9 1311.4L958.5 1312.5L960.0 1312.2L961.5 1312.5L963.1 1311.2L964.6 1309.1L966.1 1310.9L967.6 1311.6L969.2 1311.8L970.7 1312.0L972.2 1311.9L973.7 1311.6L975.3 1310.6L976.8 1311.2L978.3 1310.5L979.8 1311.4L981.4 1310.8L982.9 1309.7L984.4 1310.5L985.9 1309.9L987.5 1310.3L989.0 1309.8L990.5 1310.2L992.0 1309.8L993.6 1309.3L995.1 1308.7L996.6 1309.1L998.1 1309.6L999.6 1309.5L1001.1 1308.3L1002.7 1309.1L1004.2 1309.5L1005.7 1309.0L1007.2 1306.3L1008.7 1308.2L1010.3 1308.4L1011.8 1308.7L1013.3 1308.5L1014.8 1307.8L1016.3 1308.1L1017.9 1307.0L1019.4 1308.1L1020.9 1306.8L1022.4 1307.1L1023.9 1306.8L1025.4 1306.4L1027.0 1307.2L1028.5 1306.0L1030.0 1303.4L1031.5 1306.3L1033.1 1306.7L1034.6 1305.5L1036.2 1305.9L1037.7 1306.0L1039.2 1304.9L1040.8 1307.0L1042.3 1305.1L1043.8 1304.5L1045.4 1304.6L1046.9 1305.0L1048.5 1304.1L1050.0 1305.2L1051.5 1304.4L1053.1 1304.9L1054.6 1304.3L1056.2 1304.5L1057.7 1303.8L1059.2 1303.6L1060.8 1302.5L1062.3 1304.1L1063.8 1303.8L1065.4 1303.2L1066.9 1302.2L1068.5 1303.3L1070.0 1303.0L1071.5 1303.3L1073.1 1302.2L1074.6 1302.5L1076.2 1302.7L1077.7 1301.8L1079.2 1301.3L1080.8 1302.2L1082.3 1302.5L1083.8 1301.5L1085.4 1300.6L1086.9 1300.7L1088.5 1301.1L1090.0 1300.8L1091.5 1301.0L1093.1 1300.3L1094.6 1300.7L1096.2 1301.2L1097.7 1301.1L1099.2 1300.1L1100.8 1300.4L1102.3 1299.5L1103.8 1299.9L1105.4 1300.2L1106.9 1299.6L1108.5 1300.3L1110.0 1299.5L1111.5 1299.2L1113.0 1298.8L1114.5 1299.4L1116.0 1298.9L1117.5 1299.3L1119.0 1299.2L1120.5 1296.1L1122.0 1298.1L1123.5 1297.5L1125.0 1298.6L1126.5 1297.3L1128.0 1297.3L1129.5 1297.7L1131.0 1298.0L1132.5 1298.0L1134.0 1297.3L1135.5 1297.5L1137.0 1296.6L1138.5 1296.3L1140.0 1297.1L1141.5 1297.0L1143.0 1296.7L1144.5 1295.6L1146.0 1296.0L1147.5 1295.4L1149.0 1296.4L1150.5 1295.8L1152.0 1295.8L1153.6 1294.8L1155.1 1294.6L1156.7 1293.7L1158.2 1295.6L1159.8 1295.0L1161.3 1294.3L1162.8 1296.5L1164.4 1293.6L1165.9 1294.8L1167.5 1294.0L1169.0 1293.6L1170.5 1294.8L1172.1 1294.7L1173.6 1293.1L1175.2 1293.4L1176.7 1294.4L1178.3 1293.5L1179.8 1294.0L1181.3 1293.4L1182.9 1293.7L1184.4 1293.8L1186.0 1292.6L1187.5 1292.8L1189.1 1292.4L1190.6 1292.0L1192.1 1292.9L1193.7 1292.1L1195.2 1292.5L1196.8 1292.6L1198.3 1291.9L1199.9 1291.9L1201.4 1292.5L1202.9 1292.1L1204.5 1291.1L1206.0 1291.0L1207.6 1291.6L1209.1 1291.3L1210.7 1290.7L1212.2 1290.4L1213.7 1291.0L1215.3 1290.5L1216.8 1291.2L1218.4 1291.0L1219.9 1290.5L1221.4 1290.9L1223.0 1289.6L1224.5 1289.4L1226.1 1289.8L1227.6 1290.4L1229.2 1289.6L1230.7 1289.0L1232.2 1290.5L1233.7 1290.4L1235.2 1290.1L1236.7 1291.1L1238.2 1290.5L1239.8 1290.8L1241.3 1291.6L1242.8 1292.6L1244.3 1292.1L1245.8 1292.7L1247.3 1292.6L1248.8 1293.8L1250.6 1291.7L1252.4 1289.5L1254.2 1287.9L1256.0 1287.8L1257.8 1285.7L1259.5 1285.5L1261.2 1283.3L1263.0 1283.0L1264.7 1284.7L1266.3 1286.3L1268.0 1288.6L1269.8 1291.8L1271.5 1297.0L1273.2 1302.1L1275.0 1305.0L1276.7 1309.3L1278.3 1313.7L1280.0 1318.0L1282.0 1319.0L1284.0 1320.0L1285.9 1315.0L1287.8 1310.0L1287.8 1236.0L1289.8 1234.0L1291.7 1232.0L1291.7 1116.0L1291.7 1136.0L1293.3 1137.5L1294.9 1139.0L1294.9 1310.0L1296.5 1315.0L1298.0 1320.0L1299.7 1321.3L1301.3 1322.7L1303.0 1323.6L1304.6 1324.0L1306.1 1324.8L1307.7 1324.7L1309.2 1322.5L1310.8 1323.7L1312.3 1324.4L1313.9 1324.5L1315.4 1324.1L1317.0 1324.9L1318.6 1324.8L1320.1 1325.6L1321.7 1324.6L1323.2 1325.9L1324.8 1325.6L1326.3 1325.4L1327.9 1325.1L1329.4 1326.2L1331.0 1325.5L1332.5 1328.8L1334.1 1326.0L1335.6 1324.7L1337.1 1325.5L1338.6 1324.6L1340.2 1325.2L1341.7 1324.0L1343.2 1324.4L1344.7 1324.3L1346.3 1324.7L1347.8 1324.7L1349.3 1324.2L1350.8 1323.4L1352.4 1323.2L1353.9 1323.0L1355.4 1323.4L1356.9 1323.3L1358.5 1323.2L1360.0 1323.2L1361.5 1323.8L1363.1 1322.8L1364.6 1323.6L1366.1 1322.9L1367.6 1322.4L1369.2 1322.1L1370.7 1321.5L1372.2 1322.7L1373.7 1321.9L1375.3 1321.5L1376.8 1321.8L1378.3 1322.3L1379.8 1321.1L1381.4 1323.7L1382.9 1321.7L1384.4 1321.0L1385.9 1320.3L1387.5 1320.7L1389.0 1321.2L1390.5 1320.4L1392.0 1317.5L1393.5 1321.0L1395.1 1320.6L1396.6 1320.1L1398.1 1320.3L1399.6 1320.0L1401.1 1320.4L1402.6 1320.3L1404.2 1319.8L1405.7 1319.5L1407.2 1320.2L1408.7 1320.5L1410.2 1320.2L1411.7 1322.4L1413.3 1319.5L1414.8 1320.0L1416.3 1320.2L1417.8 1319.2L1419.3 1319.6L1420.8 1319.9L1422.4 1319.4L1423.9 1319.1L1425.4 1320.0L1426.9 1320.0L1428.4 1319.8L1429.9 1318.7L1431.5 1319.4L1433.0 1319.2L1434.5 1319.6L1436.0 1318.6L1437.5 1318.4L1439.1 1319.0L1440.7 1318.8L1442.2 1318.3L1443.8 1318.5L1445.3 1317.6L1446.8 1317.7L1448.4 1317.6L1450.0 1318.0L1451.5 1317.3L1453.0 1317.3L1454.6 1317.9L1456.2 1317.4L1457.7 1316.8L1459.2 1316.3L1460.8 1316.9L1462.3 1316.9L1463.9 1315.9L1465.5 1316.0L1467.0 1315.7L1468.5 1316.3L1470.1 1315.9L1471.6 1314.9L1473.2 1314.8L1474.8 1314.5L1476.3 1315.3L1477.8 1315.5L1479.4 1315.4L1480.9 1314.4L1482.4 1313.9L1483.9 1317.1L1485.5 1313.9L1487.0 1314.3L1488.5 1314.5L1490.1 1314.1L1491.6 1313.5L1493.1 1313.6L1494.7 1311.5L1496.2 1314.1L1497.7 1314.0L1499.2 1313.7L1500.8 1313.5L1502.3 1313.5L1503.8 1313.0L1505.4 1314.2L1506.9 1313.6L1508.4 1313.1L1509.9 1312.8L1511.5 1312.4L1513.0 1313.0L1514.7 1310.3L1516.3 1307.7L1518.0 1305.0L1519.7 1307.7L1521.3 1310.3L1523.0 1315.6L1524.6 1313.7L1526.2 1313.3L1527.8 1313.4L1529.4 1312.9L1531.0 1312.7L1532.5 1313.2L1534.1 1312.6L1535.7 1313.6L1537.3 1312.4L1538.9 1312.7L1540.5 1313.8L1542.0 1313.5L1543.5 1312.6L1545.0 1312.7L1546.5 1315.8L1548.0 1313.3L1549.5 1312.9L1551.0 1312.7L1552.5 1313.2L1554.1 1313.4L1555.6 1311.8L1557.1 1314.5L1558.6 1310.7L1560.1 1314.4L1561.6 1313.9L1563.1 1313.7L1564.6 1313.8L1566.1 1313.9L1567.6 1312.3L1569.1 1311.6L1570.6 1310.2L1572.1 1310.0L1572.1 1290.5L1575.0 1287.0L1575.8 1277.0L1576.7 1287.0L1578.9 1288.3L1578.9 1310.0L1580.5 1314.0L1582.0 1318.0L1584.0 1322.0L1586.0 1326.0L1588.0 1329.0L1590.0 1332.0L1592.0 1333.5L1594.0 1335.0L1595.8 1331.7L1597.6 1328.3L1599.4 1325.0L1599.4 1258.0L1601.2 1256.0L1603.0 1254.0L1603.0 1193.5L1603.0 1250.0L1604.8 1250.0L1606.6 1250.0L1606.6 1330.0L1609.0 1336.5L1611.0 1337.3L1612.6 1337.0L1614.2 1336.4L1615.8 1337.2L1617.5 1337.9L1619.1 1337.6L1620.7 1337.7L1622.2 1336.7L1623.7 1338.2L1625.2 1337.5L1626.8 1337.8L1628.3 1336.9L1629.8 1337.2L1631.3 1337.4L1632.8 1338.1L1634.3 1337.5L1635.8 1337.9L1637.3 1337.1L1638.9 1337.4L1640.4 1337.0L1641.9 1338.0L1643.4 1338.1L1644.9 1338.2L1646.4 1338.4L1647.9 1337.4L1649.5 1338.3L1651.0 1338.2L1652.5 1338.3L1654.0 1337.3L1655.5 1338.4L1657.0 1337.8L1658.5 1338.6L1660.1 1337.8L1661.6 1338.7L1663.1 1337.7L1664.6 1338.4L1666.1 1337.4L1667.6 1337.2L1669.1 1338.3L1670.6 1337.7L1672.2 1337.8L1673.7 1338.1L1675.2 1338.7L1676.7 1338.0L1678.2 1338.1L1679.7 1337.5L1681.2 1337.6L1682.8 1338.8L1684.3 1338.8L1685.8 1338.8L1687.3 1338.1L1688.8 1338.7L1690.3 1339.0L1691.8 1337.7L1693.3 1338.1L1694.9 1338.5L1696.4 1338.8L1697.9 1337.8L1699.4 1338.1L1700.9 1336.8L1702.4 1339.7L1703.9 1338.1L1705.4 1338.4L1706.9 1338.0L1708.4 1338.3L1709.9 1338.0L1711.4 1339.0L1712.9 1338.9L1714.4 1338.3L1715.9 1339.3L1717.4 1340.5L1718.9 1339.0L1720.5 1338.6L1722.0 1338.7L1723.5 1339.6L1725.0 1338.9L1726.5 1338.4L1728.0 1339.0L1729.5 1339.7L1731.0 1338.8L1732.5 1338.5L1734.0 1338.5L1735.5 1339.2L1737.0 1339.2L1738.5 1339.7L1740.0 1339.4L1741.5 1338.7L1743.1 1340.0L1744.6 1339.3L1746.2 1339.7L1747.7 1339.0L1749.2 1339.1L1750.8 1339.1L1752.3 1340.3L1753.8 1340.4L1755.4 1340.0L1756.9 1340.1L1758.5 1339.6L1760.0 1340.0L1762.0 1337.5L1764.0 1334.2L1765.6 1335.5L1767.1 1335.1L1768.7 1335.6L1770.3 1337.5L1771.9 1335.3L1773.4 1334.3L1775.0 1335.0L1777.0 1341.3L1778.5 1340.0L1780.0 1340.8L1781.5 1340.4L1783.0 1340.3L1784.5 1340.2L1786.0 1340.9L1787.5 1341.2L1789.0 1340.6L1790.5 1340.1L1792.0 1340.5L1793.5 1340.2L1795.0 1340.5L1797.0 1345.0L1798.5 1345.0L1800.0 1345.0L1801.5 1345.0L1803.0 1345.0L1805.0 1330.0L1806.5 1323.0L1808.3 1323.0L1810.2 1323.0L1812.0 1323.0L1813.0 1330.0L1815.0 1330.0L1816.5 1348.8L1818.0 1347.3L1819.5 1348.0L1821.0 1348.5L1822.5 1347.7L1824.0 1347.5L1825.5 1347.7L1827.0 1348.0L1829.0 1342.9L1830.6 1343.4L1832.2 1342.5L1833.8 1342.4L1835.4 1343.4L1837.0 1343.0L1839.0 1348.0L1840.7 1348.0L1842.3 1348.0L1844.0 1348.0L1846.0 1343.4L1847.6 1343.9L1849.2 1343.3L1850.8 1344.6L1852.4 1344.4L1854.0 1344.0L1856.0 1351.5L1858.0 1351.5L1860.0 1351.5L1862.0 1338.0L1864.0 1331.8L1865.8 1330.9L1867.5 1331.4L1869.2 1331.6L1871.0 1331.0L1873.0 1340.0L1875.0 1352.9L1876.5 1354.0L1878.0 1352.8L1879.5 1353.3L1881.0 1353.1L1882.5 1353.6L1884.0 1353.7L1885.5 1352.7L1887.0 1353.4L1888.5 1353.3L1890.0 1353.6L1891.5 1353.0L1893.0 1353.5L1894.5 1351.0L1896.0 1348.5L1897.5 1348.5L1899.0 1348.5L1900.5 1348.5L1902.0 1348.5L1903.5 1351.0L1905.0 1353.6L1906.5 1353.3L1908.0 1354.2L1909.5 1354.1L1911.0 1353.9L1912.5 1353.8L1914.0 1353.7L1915.5 1353.4L1917.0 1353.7L1918.5 1354.3L1920.0 1354.1L1921.5 1353.9L1923.0 1353.5L1924.5 1351.0L1926.0 1348.2L1927.6 1347.9L1929.2 1349.0L1930.8 1349.1L1932.4 1348.5L1934.0 1348.5L1935.5 1351.0L1937.0 1354.2L1938.6 1355.4L1940.2 1354.0L1941.9 1353.2L1943.5 1353.1L1945.1 1353.2L1946.8 1353.5L1948.4 1353.6L1950.0 1354.7L1951.6 1355.0L1953.2 1355.3L1954.8 1356.5L1956.4 1355.6L1958.0 1357.0" fill="none" stroke="#4e4e4e" stroke-width="11.0" stroke-linejoin="round" stroke-linecap="round"/>
</g>
<g stroke="#000" stroke-width="5.2" fill="none">
<rect x="201.3" y="18.9" width="1760.2" height="1413.7"/>
<line x1="201" y1="168.5" x2="228.5" y2="168.5"/>
<line x1="201" y1="317.0" x2="228.5" y2="317.0"/>
<line x1="201" y1="465.5" x2="228.5" y2="465.5"/>
<line x1="201" y1="614.0" x2="228.5" y2="614.0"/>
<line x1="201" y1="762.5" x2="228.5" y2="762.5"/>
<line x1="201" y1="911.0" x2="228.5" y2="911.0"/>
<line x1="201" y1="1059.5" x2="228.5" y2="1059.5"/>
<line x1="201" y1="1208.0" x2="228.5" y2="1208.0"/>
<line x1="201" y1="1356.5" x2="228.5" y2="1356.5"/>
<line x1="452.9" y1="1405" x2="452.9" y2="1432"/>
<line x1="704.4" y1="1405" x2="704.4" y2="1432"/>
<line x1="955.8" y1="1405" x2="955.8" y2="1432"/>
<line x1="1207.2" y1="1405" x2="1207.2" y2="1432"/>
<line x1="1458.7" y1="1405" x2="1458.7" y2="1432"/>
<line x1="1710.1" y1="1405" x2="1710.1" y2="1432"/>
</g>
<g stroke="#383838" stroke-width="2.9" fill="none" stroke-linecap="round">
<line x1="1226.6" y1="82" x2="1290.6" y2="113.4"/>
<line x1="671.8" y1="383.4" x2="730.9" y2="473.9"/>
<line x1="1749.6" y1="437.2" x2="1808.7" y2="481"/>
<line x1="1876.7" y1="438.1" x2="1869.1" y2="512.5"/>
<line x1="1547.7" y1="1160.1" x2="1604.7" y2="1181.8"/>
</g>
<rect x="1436.4" y="34.5" width="509.8" height="279" fill="#fff" stroke="#333" stroke-width="3"/>
<g stroke-width="10.5" stroke-linecap="round">
<line x1="1445.5" y1="84.2" x2="1608.5" y2="84.2" stroke="#0076ec"/>
<line x1="1445.5" y1="174.3" x2="1608.5" y2="174.3" stroke="#ff3e3e"/>
<line x1="1445.5" y1="264.5" x2="1608.5" y2="264.5" stroke="#4e4e4e"/>
</g>
<text transform="translate(197.88 1504.51) scale(1.0154 1.0162)" font-size="59.5" text-anchor="middle"><tspan dx="0.73">1</tspan><tspan dx="-0.73">4</tspan>00</text><g transform="translate(197.88 1504.51) scale(1.0154 1.0162)" fill="#fff"><rect x="-62.34" y="-5.61" width="11.93" height="7.93"/><rect x="-44.66" y="-5.61" width="11.71" height="7.93"/></g>
<text transform="translate(448.56 1504.51) scale(1.0149 1.0162)" font-size="59.5" text-anchor="middle"><tspan dx="0.73">1</tspan><tspan dx="-0.73">2</tspan>00</text><g transform="translate(448.56 1504.51) scale(1.0149 1.0162)" fill="#fff"><rect x="-62.31" y="-5.61" width="11.93" height="7.93"/><rect x="-44.64" y="-5.61" width="11.71" height="7.93"/></g>
<text transform="translate(699.36 1504.51) scale(1.0135 1.0162)" font-size="59.5" text-anchor="middle"><tspan dx="0.73">1</tspan><tspan dx="-0.73">0</tspan>00</text><g transform="translate(699.36 1504.51) scale(1.0135 1.0162)" fill="#fff"><rect x="-62.19" y="-5.61" width="11.93" height="7.93"/><rect x="-44.51" y="-5.61" width="11.71" height="7.93"/></g>
<text transform="translate(953.62 1504.51) scale(1.0365 1.0162)" font-size="59.5" text-anchor="middle">800</text>
<text transform="translate(1203.05 1504.51) scale(1.0444 1.0162)" font-size="59.5" text-anchor="middle">600</text>
<text transform="translate(1457.15 1504.51) scale(1.0233 1.0162)" font-size="59.5" text-anchor="middle">400</text>
<text transform="translate(1707.05 1504.51) scale(1.0412 1.0162)" font-size="59.5" text-anchor="middle">200</text>
<text transform="translate(1960.65 1504.51) scale(0.9719 1.0162)" font-size="59.5" text-anchor="middle">0</text>
<text transform="translate(1079.88 1620.52) scale(0.9727 1.0352)" font-size="76" text-anchor="middle">Binding Energy (eV)</text>
<text transform="translate(84.66 684.82) rotate(-90) scale(0.9708 1.0009)" font-size="76" text-anchor="middle">Counts (<tspan dx="0.93">1</tspan><tspan dx="-0.93">/</tspan>s)</text><g transform="translate(84.66 684.82) rotate(-90) scale(0.9708 1.0009)" fill="#fff"><rect x="84.69" y="-7.16" width="15.29" height="10.13"/><rect x="107.21" y="-7.16" width="14.96" height="10.13"/></g>
<text transform="translate(1109.82 86.62) scale(0.9878 1.0209)" font-size="57" font-weight="bold">O<tspan dx="1.11">1</tspan><tspan dx="-1.11">s</tspan></text><g transform="translate(1109.82 86.62) scale(0.9878 1.0209)" fill="#fff"><rect x="47.40" y="-6.93" width="11.13" height="9.16"/><rect x="66.86" y="-6.93" width="10.66" height="9.16"/></g>
<text transform="translate(560.24 378.64) scale(1.0022 1.0211)" font-size="57" font-weight="bold">O KL<tspan dx="1.11">1</tspan></text><g transform="translate(560.24 378.64) scale(1.0022 1.0211)" fill="#fff"><rect x="139.12" y="-6.93" width="11.13" height="9.16"/><rect x="158.58" y="-6.93" width="10.66" height="9.16"/></g>
<text transform="translate(1615.40 427.24) scale(1.0074 0.9709)" font-size="63" font-weight="bold">Al2s</text>
<text transform="translate(1829.75 414.20) scale(1.0235 1.0478)" font-size="56" font-weight="bold">Al2p</text>
<text transform="translate(1445.20 1164.19) scale(1.0040 1.0066)" font-size="56" font-weight="bold">C<tspan dx="1.09">1</tspan><tspan dx="-1.09">s</tspan></text><g transform="translate(1445.20 1164.19) scale(1.0040 1.0066)" fill="#fff"><rect x="43.51" y="-6.81" width="10.93" height="9.00"/><rect x="62.62" y="-6.81" width="10.47" height="9.00"/></g>
<text transform="translate(1624.96 105.31) scale(1.0128 1.0114)" font-size="75">P<tspan dx="0.92">1</tspan><tspan dx="-0.92">0</tspan></text><g transform="translate(1624.96 105.31) scale(1.0128 1.0114)" fill="#fff"><rect x="54.40" y="-7.07" width="15.10" height="10.00"/><rect x="76.62" y="-7.07" width="14.76" height="10.00"/></g>
<text transform="translate(1628.18 198.21) scale(0.9772 0.9832)" font-size="75">Anodized</text>
<text transform="translate(1626.44 288.81) scale(1.0001 1.0348)" font-size="75">Bare</text>
</svg>
</body></html>
